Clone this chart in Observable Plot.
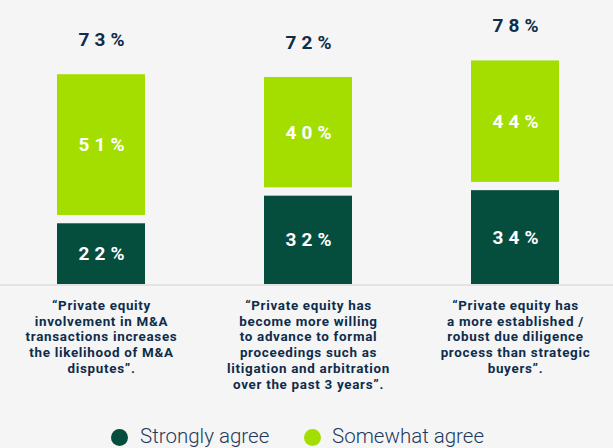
<!DOCTYPE html>
<html>
<head>
<meta charset="utf-8">
<script src="https://cdn.jsdelivr.net/npm/d3@7"></script>
<script src="https://cdn.jsdelivr.net/npm/@observablehq/plot@0.6"></script>
<style>
  html, body { margin: 0; padding: 0; background: #f5f5f5; }
  #chart { width: 613px; height: 420px; }
  .legend { position: relative; width: 613px; height: 28px; font-family: Roboto, "Noto Sans", sans-serif; font-weight: 300; font-size: 20.5px; color: #1d3a5c; }
  .legend .dot { position: absolute; top: 8.5px; width: 17px; height: 17px; border-radius: 50%; }
  .legend .lab { position: absolute; top: 2px; line-height: 28px; white-space: nowrap; }
</style>
</head>
<body>
<div id="chart"></div>
<script>
const categories = [
  "“Private equity\ninvolvement in M&A\ntransactions increases\nthe likelihood of M&A\ndisputes”.",
  "“Private equity has\nbecome more willing\nto advance to formal\nproceedings such as\nlitigation and arbitration\nover the past 3 years”.",
  "“Private equity has\na more established /\nrobust due diligence\nprocess than strategic\nbuyers”."
];
const stronglyAgree = [22, 32, 34];
const somewhatAgree = [51, 40, 44];
const totals = [73, 72, 78];
const seriesNames = ["Strongly agree", "Somewhat agree"];
const colors = ["#054d3d", "#a3de00"];

const rows = categories.map((c, i) => ({
  cat: c, strong: stronglyAgree[i], some: somewhatAgree[i], total: totals[i]
}));

const navy = "#0e2c4b";
const font = "Roboto, 'Noto Sans', sans-serif";
const gap = 8.3;
const ls = 5;

const chart = Plot.plot({
  width: 613,
  height: 420,
  marginLeft: 14.8,
  marginRight: 11.9,
  marginTop: 8,
  marginBottom: 136,
  style: { background: "transparent", fontFamily: font },
  x: { domain: categories, axis: null, paddingInner: 0.576, paddingOuter: 0.2 },
  y: { domain: [0, 100], axis: null },
  marks: [
    Plot.ruleY([0], { stroke: "#dddddd", strokeWidth: 1.5, insetLeft: -14.8, insetRight: -11.9, dy: 0.5 }),
    Plot.barY(rows, { x: "cat", y1: 0, y2: "strong", fill: colors[0] }),
    Plot.barY(rows, { x: "cat", y1: "strong", y2: "total", fill: colors[1], dy: -gap }),
    Plot.text(rows, { x: "cat", y: d => d.strong / 2, text: d => d.strong + "%", fill: "white", fontSize: 19, fontWeight: "bold", dx: ls / 2 }),
    Plot.text(rows, { x: "cat", y: d => (d.strong + d.total) / 2, text: d => d.some + "%", fill: "white", fontSize: 19, fontWeight: "bold", dx: ls / 2, dy: -gap }),
    Plot.text(rows, { x: "cat", y: "total", text: d => d.total + "%", fill: navy, fontSize: 19, fontWeight: "bold", dx: ls / 2, dy: -gap - 35 }),
    Plot.text(rows, { x: "cat", y: 0, text: "cat", fill: navy, fontSize: 13.4, fontWeight: "bold", lineAnchor: "top", lineHeight: 1.18, dy: 14 })
  ]
});

document.getElementById("chart").appendChild(chart);
const textGroups = chart.querySelectorAll('g[aria-label="text"]');
for (let i = 0; i < 3; i++) {
  textGroups[i].querySelectorAll("text").forEach(t => t.style.letterSpacing = ls + "px");
}
textGroups[3].querySelectorAll("text").forEach(t => t.style.letterSpacing = "0.7px");

// legend
const legend = document.createElement("div");
legend.className = "legend";
const dotLefts = [110.5, 303.5];
const labLefts = [140, 332];
seriesNames.forEach((name, i) => {
  const dot = document.createElement("span");
  dot.className = "dot";
  dot.style.left = dotLefts[i] + "px";
  dot.style.background = colors[i];
  const label = document.createElement("span");
  label.className = "lab";
  label.style.left = labLefts[i] + "px";
  label.textContent = name;
  legend.appendChild(dot);
  legend.appendChild(label);
});
document.body.appendChild(legend);
</script>
</body>
</html>
